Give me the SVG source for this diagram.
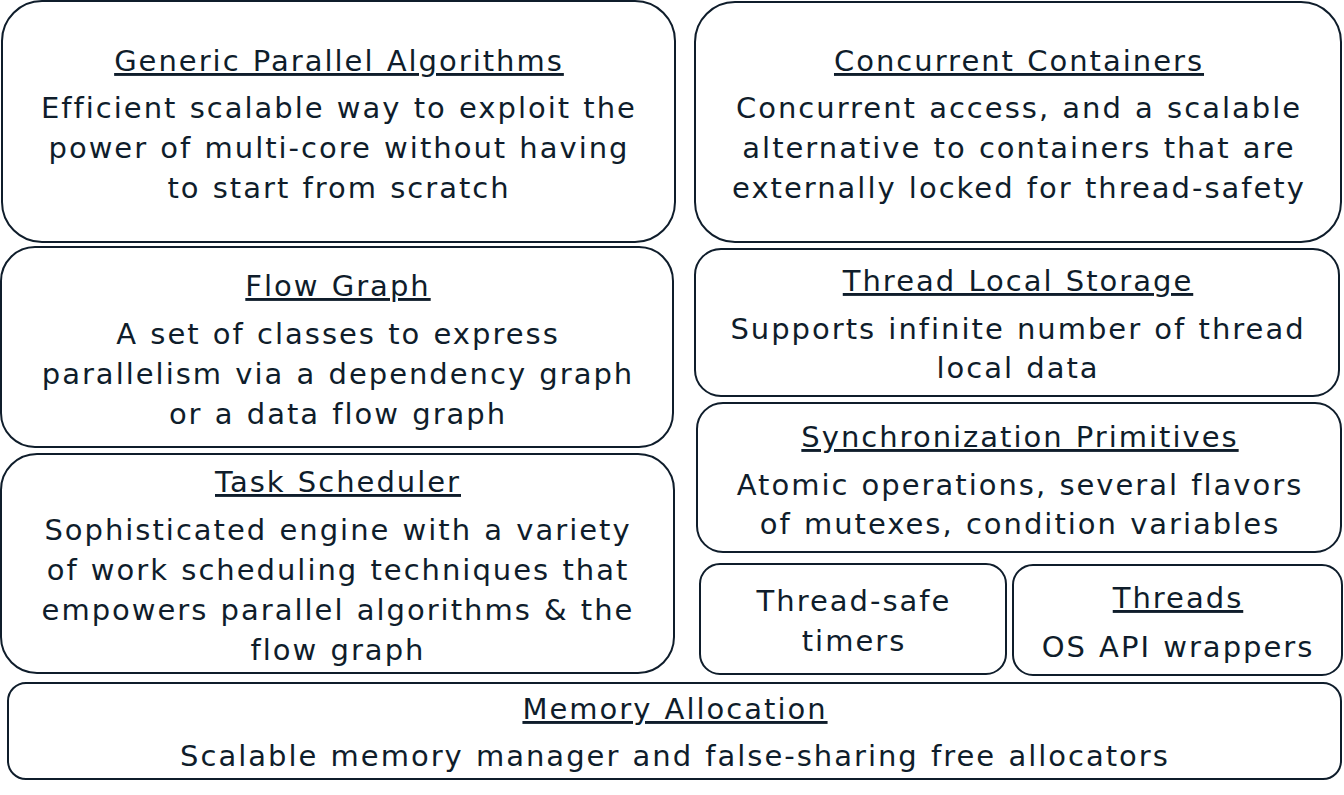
<svg xmlns="http://www.w3.org/2000/svg" width="1344" height="795" viewBox="0 0 1344 795">
  <style>
    .box { fill: #ffffff; stroke: #0f1d2b; stroke-width: 2; }
    text { font-family: "DejaVu Sans", Verdana, sans-serif; font-size: 29px; letter-spacing: 2px; word-spacing: 1px; fill: #0f1d2b; text-anchor: middle; }
    .title { text-decoration: underline; }
  </style>
  <rect x="0" y="0" width="1344" height="795" fill="#ffffff"/>

  <g id="generic-parallel-algorithms">
    <rect class="box" x="2" y="1" width="673" height="241" rx="40"/>
    <text class="title" x="339" y="71">Generic Parallel Algorithms</text>
    <text x="339" y="118">Efficient scalable way to exploit the</text>
    <text x="339" y="158">power of multi-core without having</text>
    <text x="339" y="198">to start from scratch</text>
  </g>

  <g id="concurrent-containers">
    <rect class="box" x="695" y="2" width="646" height="240" rx="40"/>
    <text class="title" x="1019" y="71">Concurrent Containers</text>
    <text x="1019" y="118">Concurrent access, and a scalable</text>
    <text x="1019" y="158">alternative to containers that are</text>
    <text x="1019" y="198">externally locked for thread-safety</text>
  </g>

  <g id="flow-graph">
    <rect class="box" x="1" y="247" width="672" height="200" rx="34"/>
    <text class="title" x="338" y="296">Flow Graph</text>
    <text x="338" y="344">A set of classes to express</text>
    <text x="338" y="384">parallelism via a dependency graph</text>
    <text x="338" y="424">or a data flow graph</text>
  </g>

  <g id="thread-local-storage">
    <rect class="box" x="695" y="249" width="644" height="147" rx="26"/>
    <text class="title" x="1018" y="291">Thread Local Storage</text>
    <text x="1018" y="339">Supports infinite number of thread</text>
    <text x="1018" y="378">local data</text>
  </g>

  <g id="synchronization-primitives">
    <rect class="box" x="697" y="403" width="644" height="149" rx="26"/>
    <text class="title" x="1020" y="447">Synchronization Primitives</text>
    <text x="1020" y="495">Atomic operations, several flavors</text>
    <text x="1020" y="534">of mutexes, condition variables</text>
  </g>

  <g id="task-scheduler">
    <rect class="box" x="1" y="454" width="673" height="219" rx="36"/>
    <text class="title" x="338" y="492">Task Scheduler</text>
    <text x="338" y="540">Sophisticated engine with a variety</text>
    <text x="338" y="580">of work scheduling techniques that</text>
    <text x="338" y="620">empowers parallel algorithms &amp; the</text>
    <text x="338" y="660">flow graph</text>
  </g>

  <g id="thread-safe-timers">
    <rect class="box" x="700" y="564" width="306" height="110" rx="20"/>
    <text x="854" y="611">Thread-safe</text>
    <text x="854" y="651">timers</text>
  </g>

  <g id="threads">
    <rect class="box" x="1013" y="565" width="329" height="110" rx="20"/>
    <text class="title" x="1178" y="608">Threads</text>
    <text x="1178" y="657">OS API wrappers</text>
  </g>

  <g id="memory-allocation">
    <rect class="box" x="8" y="683" width="1333" height="96" rx="18"/>
    <text class="title" x="675" y="719">Memory Allocation</text>
    <text x="675" y="766">Scalable memory manager and false-sharing free allocators</text>
  </g>

  <g id="connectors"/>
</svg>
